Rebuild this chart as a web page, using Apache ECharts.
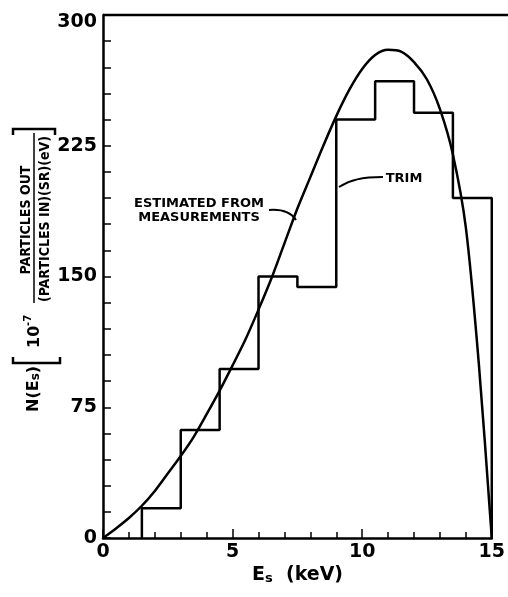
<!DOCTYPE html>
<html><head><meta charset="utf-8">
<script src="https://cdn.jsdelivr.net/npm/echarts@6/dist/echarts.min.js"></script>
<style>html,body{margin:0;padding:0;background:#fff}#c{width:508px;height:597px}</style>
</head><body><div id="c"></div>
<script>
// TRIM histogram: bin edges (keV) and heights
const binEdges = [1.5, 3, 4.5, 6, 7.5, 9, 10.5, 12, 13.5, 15];
const trimValues = [17, 62, 97, 150, 144, 240, 262, 244, 195];
// "Estimated from measurements" curve
const curveX = [0, 0.5, 1, 1.5, 2, 2.5, 3, 3.5, 4, 4.5, 5, 5.5, 6, 6.5, 7, 7.5, 8, 8.5, 9, 9.5, 10, 10.5, 11, 11.5, 12, 12.5, 13, 13.5, 14, 14.5, 15];
const curveY = [0, 5.5, 11.5, 18.5, 27, 37, 47, 58, 71, 84.5, 99, 114, 131, 149, 169, 189, 207, 225, 242, 257, 269, 277, 280, 279, 273, 263, 246, 220, 178, 100, 0];
const xTickLabels = {0: '0', 5: '5', 10: '10', 15: '15'};
const yTickLabels = {0: '0', 75: '75', 150: '150', 225: '225', 300: '300'};

const histPts = [[binEdges[0], 0]];
for (let i = 0; i < trimValues.length; i++) {
  histPts.push([binEdges[i], trimValues[i]]);
  histPts.push([binEdges[i + 1], trimValues[i]]);
}
histPts.push([binEdges[binEdges.length - 1], 0]);
const curvePts = curveX.map((x, i) => [x, curveY[i]]);

const FF = 'DejaVu Sans';
const FC = 'DejaVu Sans Condensed';
const chart = echarts.init(document.getElementById('c'));
chart.setOption({
  animation: false,
  backgroundColor: '#fff',
  grid: {left: 103, right: 8, top: 15, bottom: 59, containLabel: false},
  xAxis: {
    type: 'value', min: 0, max: 15, interval: 5,
    axisLine: {lineStyle: {color: '#000', width: 2.5}},
    axisTick: {inside: true, length: 9, lineStyle: {color: '#000', width: 1.5}},
    minorTick: {show: true, splitNumber: 5, length: 6, lineStyle: {color: '#000', width: 1.5}},
    splitLine: {show: false},
    axisLabel: {color: '#000', fontFamily: FF, fontWeight: 'bold', fontSize: 19, margin: 5,
      formatter: v => xTickLabels[v] ?? ''}
  },
  yAxis: {
    type: 'value', min: 0, max: 300, interval: 75,
    axisLine: {show: true, lineStyle: {color: '#000', width: 2.5}},
    axisTick: {show: true, inside: true, length: 8, lineStyle: {color: '#000', width: 1.5}},
    minorTick: {show: true, splitNumber: 5, length: 8, lineStyle: {color: '#000', width: 1.5}},
    splitLine: {show: false},
    axisLabel: {color: '#000', fontFamily: FF, fontWeight: 'bold', fontSize: 19, margin: 6,
      formatter: v => v === 300 ? '{t|300}' : (yTickLabels[v] ?? ''),
      rich: {t: {fontFamily: FF, fontWeight: 'bold', fontSize: 19, color: '#000', padding: [14, 0, 0, 0]}}}
  },
  series: [
    {type: 'line', data: histPts, showSymbol: false, smooth: false,
      lineStyle: {color: '#000', width: 2.5}, z: 3},
    {type: 'line', data: curvePts, showSymbol: false, smooth: 0.3,
      lineStyle: {color: '#000', width: 2.5}, z: 4}
  ],
  graphic: [
    {type: 'line', shape: {x1: 103, y1: 15, x2: 508, y2: 15}, style: {stroke: '#000', lineWidth: 2.5}},
    // x axis title
    {type: 'text', left: 252, top: 566, style: {
      text: '{a|E}{s|s}{a|  (keV)}',
      rich: {a: {fontFamily: FF, fontWeight: 'bold', fontSize: 19, fill: '#000'},
             s: {fontFamily: FF, fontWeight: 'bold', fontSize: 13, fill: '#000', padding: [6, 0, 0, 0]}}}},
    // annotations
    {type: 'text', x: 199, y: 211, style: {text: 'ESTIMATED FROM\nMEASUREMENTS', align: 'center', verticalAlign: 'middle',
      fontFamily: FF, fontWeight: 'bold', fontSize: 13, lineHeight: 14, fill: '#000'}},
    {type: 'bezierCurve', shape: {x1: 269, y1: 210, cpx1: 283, cpy1: 209, cpx2: 291, cpy2: 212, x2: 296, y2: 220},
      style: {stroke: '#000', lineWidth: 2, fill: null}},
    {type: 'text', x: 404, y: 179, style: {text: 'TRIM', align: 'center', verticalAlign: 'middle',
      fontFamily: FF, fontWeight: 'bold', fontSize: 13, fill: '#000'}},
    {type: 'bezierCurve', shape: {x1: 383, y1: 177, cpx1: 362, cpy1: 177, cpx2: 350, cpy2: 180, x2: 339, y2: 187},
      style: {stroke: '#000', lineWidth: 2, fill: null}},
    // y axis title (rotated)
    {type: 'group', x: 34, y: 420, rotation: Math.PI / 2, children: [
      {type: 'text', x: 8, y: 0, style: {text: '{a|N(E}{s|s}{a|)}', align: 'left', verticalAlign: 'middle',
        rich: {a: {fontFamily: FF, fontWeight: 'bold', fontSize: 16, fill: '#000'},
               s: {fontFamily: FF, fontWeight: 'bold', fontSize: 12, fill: '#000', padding: [3, 0, 0, 0]}}}},
      {type: 'polyline', shape: {points: [[63, -21], [57, -21], [57, 26], [63, 26]]}, style: {stroke: '#000', lineWidth: 2.5, fill: null}},
      {type: 'text', x: 72, y: 1, style: {text: '10', align: 'left', verticalAlign: 'middle', fontFamily: FF, fontWeight: 'bold', fontSize: 16, fill: '#000'}},
      {type: 'text', x: 94, y: -6, style: {text: '-7', align: 'left', verticalAlign: 'middle', fontFamily: FF, fontWeight: 'bold', fontSize: 10, fill: '#000'}},
      {type: 'text', x: 200, y: -8, style: {text: 'PARTICLES OUT', align: 'center', verticalAlign: 'middle', fontFamily: FC, fontWeight: 'bold', fontSize: 14, fill: '#000'}},
      {type: 'line', shape: {x1: 117, y1: 0, x2: 287, y2: 0}, style: {stroke: '#000', lineWidth: 1.5}},
      {type: 'text', x: 201, y: 11, style: {text: '(PARTICLES IN)(SR)(eV)', align: 'center', verticalAlign: 'middle', fontFamily: FC, fontWeight: 'bold', fontSize: 14, fill: '#000'}},
      {type: 'polyline', shape: {points: [[285, -21], [291, -21], [291, 21], [285, 21]]}, style: {stroke: '#000', lineWidth: 2.5, fill: null}}
    ]}
  ]
});
</script></body></html>
